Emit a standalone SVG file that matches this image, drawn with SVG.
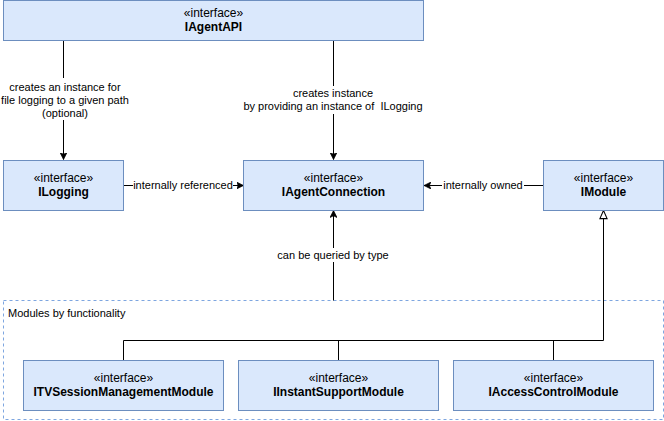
<svg xmlns="http://www.w3.org/2000/svg" width="664" height="421" viewBox="0 0 664 421">
<defs>
<style>
.box{fill:#dae8fc;stroke:#6c8ebf;stroke-width:1}
.st{font-family:"Liberation Sans",Arial,sans-serif;font-size:12px;fill:#000;text-anchor:middle}
.nm{font-family:"Liberation Sans",Arial,sans-serif;font-size:12px;font-weight:bold;fill:#000;text-anchor:middle}
.lb{font-family:"Liberation Sans",Arial,sans-serif;font-size:11px;fill:#000;text-anchor:middle}
.ln{fill:none;stroke:#000;stroke-width:1}
.bg{fill:#fff}
</style>
<marker id="fa" viewBox="0 0 10 10" refX="10" refY="5" markerWidth="7" markerHeight="7" orient="auto" markerUnits="userSpaceOnUse">
<path d="M0,0 L10,5 L0,10 L2.5,5 Z" fill="#000" stroke="#000" stroke-width="1"/>
</marker>
<marker id="ha" viewBox="0 0 10 10" refX="10" refY="5" markerWidth="9" markerHeight="9" orient="auto" markerUnits="userSpaceOnUse">
<path d="M1,1 L10,5 L1,9 Z" fill="#fff" stroke="#000" stroke-width="1.2"/>
</marker>
</defs>
<rect width="664" height="421" fill="#fff"/>
<g id="container">
<rect x="3.5" y="300.5" width="660" height="119" fill="none" stroke="#7ea6e0" stroke-dasharray="3 3"/>
<text x="8" y="317" style="font-family:'Liberation Sans',Arial,sans-serif;font-size:11px">Modules by functionality</text>
</g>
<g id="connectors">
<path class="ln" d="M63.5,40.5 V159.5" marker-end="url(#fa)"/>
<rect class="bg" x="2" y="78" width="128" height="42"/>
<text class="lb" x="65" y="91">creates an instance for</text>
<text class="lb" x="65" y="104">file logging to a given path</text>
<text class="lb" x="65" y="117">(optional)</text>
<path class="ln" d="M333.5,40.5 V159.5" marker-end="url(#fa)"/>
<rect class="bg" x="243" y="86" width="182" height="28"/>
<text class="lb" x="333" y="97">creates instance</text>
<text class="lb" x="333" y="110">by providing an instance of&#160; ILogging</text>
<path class="ln" d="M123.5,185.5 H243.5" marker-end="url(#fa)"/>
<rect class="bg" x="133" y="178" width="100" height="14"/>
<text class="lb" x="183" y="189">internally referenced</text>
<path class="ln" d="M543.5,185.5 H424" marker-end="url(#fa)"/>
<rect class="bg" x="442" y="178" width="82" height="14"/>
<text class="lb" x="483" y="189">internally owned</text>
<path class="ln" d="M333.5,300.5 V210.5" marker-end="url(#fa)"/>
<rect class="bg" x="275" y="248" width="117" height="14"/>
<text class="lb" x="333" y="259">can be queried by type</text>
<path class="ln" d="M123.5,360 V340.5 H603.5 V210.5" marker-end="url(#ha)"/>
<path class="ln" d="M338.5,360 V340.5"/>
<path class="ln" d="M553.5,360 V340.5"/>
</g>
<g id="IAgentAPI">
<rect class="box" x="3.5" y="0.5" width="420" height="40"/>
<text class="st" x="213.5" y="17">«interface»</text>
<text class="nm" x="213.5" y="31">IAgentAPI</text>
</g>
<g id="ILogging">
<rect class="box" x="3.5" y="160.5" width="120" height="50"/>
<text class="st" x="63.5" y="182">«interface»</text>
<text class="nm" x="63.5" y="196">ILogging</text>
</g>
<g id="IAgentConnection">
<rect class="box" x="243.5" y="160.5" width="180" height="50"/>
<text class="st" x="333.5" y="182">«interface»</text>
<text class="nm" x="333.5" y="196">IAgentConnection</text>
</g>
<g id="IModule">
<rect class="box" x="543.5" y="160.5" width="120" height="50"/>
<text class="st" x="603.5" y="182">«interface»</text>
<text class="nm" x="603.5" y="196">IModule</text>
</g>
<g id="ITVSessionManagementModule">
<rect class="box" x="23.5" y="360.5" width="200" height="50"/>
<text class="st" x="123.5" y="382">«interface»</text>
<text class="nm" x="123.5" y="396">ITVSessionManagementModule</text>
</g>
<g id="IInstantSupportModule">
<rect class="box" x="238.5" y="360.5" width="200" height="50"/>
<text class="st" x="338.5" y="382">«interface»</text>
<text class="nm" x="338.5" y="396">IInstantSupportModule</text>
</g>
<g id="IAccessControlModule">
<rect class="box" x="453.5" y="360.5" width="200" height="50"/>
<text class="st" x="553.5" y="382">«interface»</text>
<text class="nm" x="553.5" y="396">IAccessControlModule</text>
</g>
</svg>
